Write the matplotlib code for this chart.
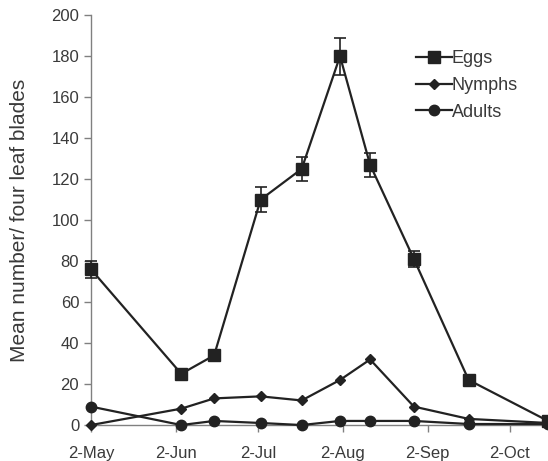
import datetime as dt
import matplotlib
matplotlib.use("Agg")
import matplotlib.pyplot as plt
import matplotlib.dates as mdates
from matplotlib.lines import Line2D

plt.rcParams['font.family'] = ['Liberation Sans', 'DejaVu Sans']

# sampling dates
dates = [dt.date(2008, 5, 2), dt.date(2008, 6, 4), dt.date(2008, 6, 16),
         dt.date(2008, 7, 3), dt.date(2008, 7, 18), dt.date(2008, 8, 1),
         dt.date(2008, 8, 12), dt.date(2008, 8, 28), dt.date(2008, 9, 17),
         dt.date(2008, 10, 16)]

eggs = [76, 25, 34, 110, 125, 180, 127, 81, 22, 2]
eggs_err = [4, 1.5, 2, 6, 6, 9, 6, 4, 1.5, 0.5]
nymphs = [0, 8, 13, 14, 12, 22, 32, 9, 3, 1]
adults = [9, 0, 2, 1, 0, 2, 2, 2, 0.5, 0.5]

tick_dates = [dt.date(2008, 5, 2), dt.date(2008, 6, 2), dt.date(2008, 7, 2),
              dt.date(2008, 8, 2), dt.date(2008, 9, 2), dt.date(2008, 10, 2)]
tick_labels = ["2-May", "2-Jun", "2-Jul", "2-Aug", "2-Sep", "2-Oct"]

dark = '#222222'
grey = '#808080'
txt = '#3a3a3a'

fig = plt.figure(figsize=(5.48, 4.61), dpi=100)
ax = fig.add_axes([0.166, 0.078, 0.834, 0.889])

ax.errorbar(dates, eggs, yerr=eggs_err, color=dark, marker='s', markersize=8,
            linewidth=1.6, capsize=4, elinewidth=1.2, capthick=1.2,
            clip_on=False, zorder=3)
ax.plot(dates, nymphs, color=dark, marker='D', markersize=5, linewidth=1.6,
        clip_on=False, zorder=3)
ax.plot(dates, adults, color=dark, marker='o', markersize=7.5, linewidth=1.6,
        clip_on=False, zorder=3)

ax.set_xlim(dt.date(2008, 5, 2), dt.date(2008, 10, 16))
ax.set_ylim(0, 200)
ax.set_yticks(range(0, 201, 20))
ax.set_xticks([mdates.date2num(d) for d in tick_dates])
ax.set_xticklabels(tick_labels)

for s in ['top', 'right']:
    ax.spines[s].set_visible(False)
for s in ['left', 'bottom']:
    ax.spines[s].set_color(grey)
    ax.spines[s].set_linewidth(1)

ax.tick_params(axis='both', colors=grey, labelcolor=txt, labelsize=12,
               length=5, width=1, direction='out')
ax.tick_params(axis='x', pad=10)
ax.set_ylabel('Mean number/ four leaf blades', fontsize=15, color=txt,
              labelpad=16)

handles = [
    Line2D([], [], color=dark, marker='s', markersize=8, linewidth=1.6),
    Line2D([], [], color=dark, marker='D', markersize=5, linewidth=1.6),
    Line2D([], [], color=dark, marker='o', markersize=7.5, linewidth=1.6),
]
ax.legend(handles, ['Eggs', 'Nymphs', 'Adults'], loc='upper left',
          bbox_to_anchor=(0.675, 0.955), frameon=False, fontsize=13,
          handlelength=2.0, handletextpad=0.0, labelspacing=0.55,
          labelcolor=txt)

fig.savefig('out.png', dpi=100)
